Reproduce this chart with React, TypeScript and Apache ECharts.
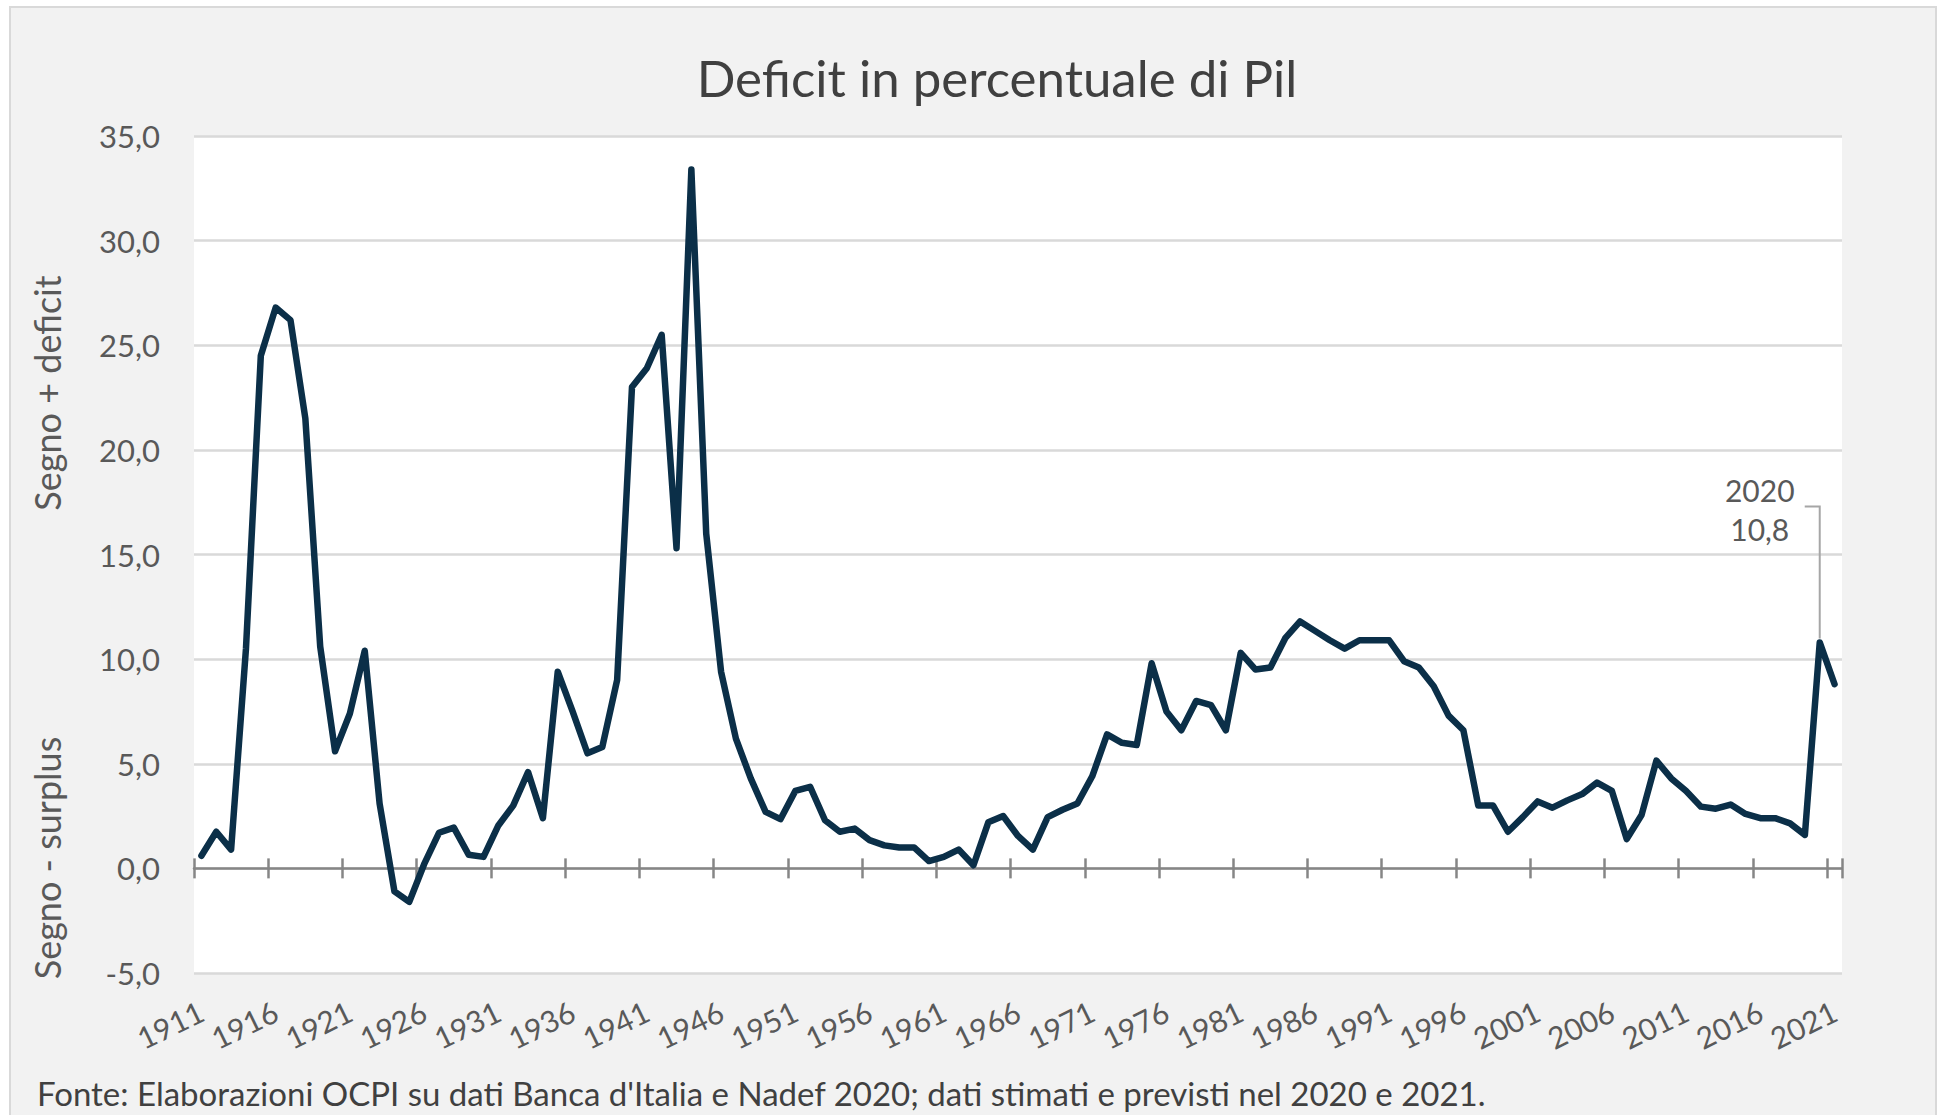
import React, { useEffect, useRef } from "react";
import * as echarts from "echarts";

const years = [
  "1911","1912","1913","1914","1915","1916","1917","1918","1919","1920",
  "1921","1922","1923","1924","1925","1926","1927","1928","1929","1930",
  "1931","1932","1933","1934","1935","1936","1937","1938","1939","1940",
  "1941","1942","1943","1944","1945","1946","1947","1948","1949","1950",
  "1951","1952","1953","1954","1955","1956","1957","1958","1959","1960",
  "1961","1962","1963","1964","1965","1966","1967","1968","1969","1970",
  "1971","1972","1973","1974","1975","1976","1977","1978","1979","1980",
  "1981","1982","1983","1984","1985","1986","1987","1988","1989","1990",
  "1991","1992","1993","1994","1995","1996","1997","1998","1999","2000",
  "2001","2002","2003","2004","2005","2006","2007","2008","2009","2010",
  "2011","2012","2013","2014","2015","2016","2017","2018","2019","2020",
  "2021",
];

const deficit = [
  0.6, 1.75, 0.9, 10.5, 24.5, 26.8, 26.2, 21.5, 10.6, 5.6,
  7.4, 10.4, 3.1, -1.1, -1.6, 0.2, 1.7, 1.95, 0.65, 0.55,
  2.05, 3.0, 4.6, 2.4, 9.4, 7.5, 5.5, 5.8, 9.0, 23.0,
  23.9, 25.5, 15.3, 33.4, 16.0, 9.4, 6.2, 4.3, 2.7, 2.35,
  3.7, 3.9, 2.3, 1.75, 1.9, 1.35, 1.1, 1.0, 1.0, 0.35,
  0.55, 0.9, 0.15, 2.2, 2.5, 1.55, 0.9, 2.45, 2.8, 3.1,
  4.4, 6.4, 6.0, 5.9, 9.8, 7.5, 6.6, 8.0, 7.8, 6.6,
  10.3, 9.5, 9.6, 11.0, 11.8, 11.35, 10.9, 10.5, 10.9, 10.9,
  10.9, 9.9, 9.6, 8.7, 7.3, 6.6, 3.0, 3.0, 1.75, 2.45,
  3.2, 2.9, 3.25, 3.55, 4.1, 3.7, 1.4, 2.55, 5.15, 4.3,
  3.7, 2.95, 2.85, 3.05, 2.6, 2.4, 2.4, 2.15, 1.6, 10.8,
  8.8,
];

const yMin = -5;
const yMax = 35;
const yStep = 5;
const labelEvery = 5;
const highlightYear = "2020";

const titleText = "Deficit in percentuale di Pil";
const axisTitleUpper = "Segno + deficit";
const axisTitleLower = "Segno - surplus";
const sourceText =
  "Fonte: Elaborazioni OCPI su dati Banca d'Italia e Nadef 2020; dati stimati e previsti nel 2020 e 2021.";

const FONT = "Lato, 'Open Sans', 'DejaVu Sans', sans-serif";
const fmt = (v: number) => v.toFixed(1).replace(".", ",");

export default function App() {
  const ref = useRef<HTMLDivElement>(null);

  useEffect(() => {
    if (!ref.current) return;
    const chart = echarts.init(ref.current, null, { renderer: "svg" });
    const tickInterval = labelEvery - 1;
    const axisGrey = "#868686";
    const textGrey = "#595959";

    chart.setOption({
      animation: false,
      backgroundColor: "#ffffff",
      grid: {
        left: 194,
        right: 95,
        top: 136,
        bottom: 142,
        show: true,
        backgroundColor: "#ffffff",
        borderWidth: 0,
        containLabel: false,
        outerBoundsMode: "none",
      },
      xAxis: [
        {
          type: "category",
          data: years,
          position: "bottom",
          boundaryGap: true,
          axisLine: { show: false, onZero: false },
          axisTick: { show: false },
          splitLine: { show: false },
          axisLabel: {
            interval: tickInterval,
            rotate: 26,
            margin: 36,
            color: textGrey,
            fontSize: 30,
            fontFamily: FONT,
          },
        },
        {
          type: "category",
          data: years,
          position: "bottom",
          boundaryGap: true,
          axisLine: {
            show: true,
            onZero: true,
            onZeroAxisIndex: 0,
            lineStyle: { color: axisGrey, width: 2.5 },
          },
          axisTick: {
            show: true,
            interval: tickInterval,
            length: 10,
            lineStyle: { color: axisGrey, width: 2.5 },
          },
          axisLabel: { show: false },
          splitLine: { show: false },
        },
        {
          type: "category",
          data: years,
          position: "top",
          boundaryGap: true,
          axisLine: { show: false, onZero: true, onZeroAxisIndex: 0 },
          axisTick: {
            show: true,
            interval: tickInterval,
            length: 10,
            lineStyle: { color: axisGrey, width: 2.5 },
          },
          axisLabel: { show: false },
          splitLine: { show: false },
        },
      ],
      yAxis: {
        type: "value",
        min: yMin,
        max: yMax,
        interval: yStep,
        axisLine: { show: false },
        axisTick: { show: false },
        axisLabel: {
          formatter: fmt,
          margin: 34,
          color: textGrey,
          fontSize: 31,
          fontFamily: FONT,
        },
        splitLine: { lineStyle: { color: "#d9d9d9", width: 2.5 } },
      },
      series: [
        {
          type: "line",
          data: deficit,
          xAxisIndex: 0,
          yAxisIndex: 0,
          showSymbol: false,
          symbol: "none",
          z: 5,
          lineStyle: { color: "#0b2f48", width: 6.5, cap: "round", join: "round" },
        },
      ],
      graphic: [
        {
          id: "box",
          type: "rect",
          z: -100,
          shape: { x: 10, y: 7, width: 1926, height: 1130 },
          style: { fill: "#f2f2f2", stroke: "#d9d9d9", lineWidth: 2 },
        },
        {
          id: "title",
          type: "text",
          x: 997,
          y: 77,
          z: 10,
          style: {
            text: titleText,
            fontSize: 51,
            fontFamily: FONT,
            fill: "#404040",
            align: "center",
            verticalAlign: "middle",
          },
        },
        {
          id: "ytUpper",
          type: "text",
          x: 47,
          y: 393,
          rotation: Math.PI / 2,
          z: 10,
          style: {
            text: axisTitleUpper,
            fontSize: 36,
            fontFamily: FONT,
            fill: textGrey,
            align: "center",
            verticalAlign: "middle",
          },
        },
        {
          id: "ytLower",
          type: "text",
          x: 47,
          y: 858,
          rotation: Math.PI / 2,
          z: 10,
          style: {
            text: axisTitleLower,
            fontSize: 36,
            fontFamily: FONT,
            fill: textGrey,
            align: "center",
            verticalAlign: "middle",
          },
        },
        {
          id: "source",
          type: "text",
          x: 37,
          y: 1093,
          z: 10,
          style: {
            text: sourceText,
            fontSize: 33,
            fontFamily: FONT,
            fill: "#404040",
            align: "left",
            verticalAlign: "middle",
          },
        },
      ],
    });

    const idx = years.indexOf(highlightYear);
    const val = deficit[idx];
    const p = chart.convertToPixel({ seriesIndex: 0 }, [idx, val]) as number[];
    if (p && isFinite(p[0]) && isFinite(p[1])) {
      const px = p[0];
      const py = p[1];
      chart.setOption({
        graphic: [
          {
            id: "leader",
            type: "polyline",
            z: 10,
            shape: {
              points: [
                [px - 15, py - 136],
                [px, py - 136],
                [px, py - 4],
              ],
            },
            style: { stroke: "#a6a6a6", lineWidth: 2, fill: null },
          },
          {
            id: "annYear",
            type: "text",
            x: px - 60,
            y: py - 152,
            z: 10,
            style: {
              text: highlightYear,
              fontSize: 30,
              fontFamily: FONT,
              fill: textGrey,
              align: "center",
              verticalAlign: "middle",
            },
          },
          {
            id: "annVal",
            type: "text",
            x: px - 60,
            y: py - 113,
            z: 10,
            style: {
              text: fmt(val),
              fontSize: 30,
              fontFamily: FONT,
              fill: textGrey,
              align: "center",
              verticalAlign: "middle",
            },
          },
        ],
      });
    }

    return () => {
      chart.dispose();
    };
  }, []);

  return (
    <div
      ref={ref}
      style={{ position: "absolute", left: 0, top: 0, width: 1937, height: 1115 }}
    />
  );
}
